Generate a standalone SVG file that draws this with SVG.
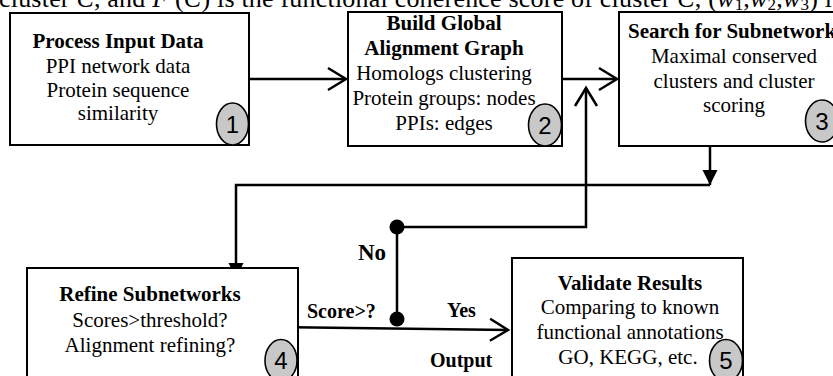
<svg xmlns="http://www.w3.org/2000/svg" width="833" height="376" viewBox="0 0 833 376">
<style>
  .box{fill:#fff;stroke:#000;stroke-width:2}
  .t{font-family:"Liberation Serif","Times New Roman",serif;font-size:21px;fill:#000;text-anchor:middle}
  .b{font-weight:bold}
  .lbl{font-family:"Liberation Serif","Times New Roman",serif;font-weight:bold;fill:#000}
  .num{fill:#c8c8c8;stroke:#000;stroke-width:1.6}
  .numt{font-family:"Liberation Sans",Arial,sans-serif;font-size:24px;fill:#000;text-anchor:middle}
  .ln{fill:none;stroke:#000;stroke-width:2.5}
  .cap{font-family:"Liberation Serif","Times New Roman",serif;font-size:26px;fill:#000}
</style>
<defs>
  <marker id="open" markerUnits="userSpaceOnUse" markerWidth="22" markerHeight="26" refX="19" refY="12" orient="auto" overflow="visible">
    <path d="M1,1 L19,12 L1,23" fill="none" stroke="#000" stroke-width="2.5"/>
  </marker>
  <marker id="tri" markerUnits="userSpaceOnUse" markerWidth="16" markerHeight="16" refX="15" refY="7.5" orient="auto" overflow="visible">
    <path d="M0,0 L15,7.5 L0,15 Z" fill="#000"/>
  </marker>
</defs>

<text class="cap" x="-1" y="7" textLength="833" lengthAdjust="spacing">cluster <tspan font-style="italic">C</tspan>, and <tspan font-style="italic">F</tspan> (<tspan font-style="italic">C</tspan>) is the functional coherence score of cluster <tspan font-style="italic">C</tspan>, (<tspan font-style="italic">w</tspan><tspan font-size="17" dy="3">1</tspan><tspan dy="-3">,</tspan><tspan font-style="italic">w</tspan><tspan font-size="17" dy="3">2</tspan><tspan dy="-3">,</tspan><tspan font-style="italic">w</tspan><tspan font-size="17" dy="3">3</tspan><tspan dy="-3">) i</tspan></text>

<g id="connectors">
  <path class="ln" d="M249,79 H346" marker-end="url(#open)"/>
  <path class="ln" d="M562,79 H617" marker-end="url(#open)"/>
  <path class="ln" d="M710,146 V185" marker-end="url(#tri)"/>
  <path class="ln" d="M710,185 H236 V278" marker-end="url(#tri)"/>
  <path class="ln" d="M274,327 L508,330" marker-end="url(#open)"/>
  <path class="ln" d="M397,319 V227 H586 V88" marker-end="url(#open)"/>
  <circle cx="397" cy="227" r="7.5" fill="#000"/>
  <circle cx="397" cy="319" r="7.5" fill="#000"/>
  <text class="lbl" x="358" y="260" font-size="23">No</text>
  <text class="lbl" x="307" y="318" font-size="20">Score&gt;?</text>
  <text class="lbl" x="447" y="317" font-size="20">Yes</text>
  <text class="lbl" x="430" y="367" font-size="20">Output</text>
</g>

<g id="node1">
  <rect class="box" x="10" y="13" width="239" height="132"/>
  <text class="t b" x="118" y="48">Process Input Data</text>
  <text class="t" x="118" y="73">PPI network data</text>
  <text class="t" x="118" y="97">Protein sequence</text>
  <text class="t" x="118" y="120">similarity</text>
  <ellipse class="num" cx="232.5" cy="124" rx="16" ry="21"/>
  <text class="numt" x="232.5" y="132.5">1</text>
</g>

<g id="node2">
  <rect class="box" x="348" y="12" width="214" height="134"/>
  <text class="t b" x="444" y="30">Build Global</text>
  <text class="t b" x="444" y="55">Alignment Graph</text>
  <text class="t" x="444" y="80">Homologs clustering</text>
  <text class="t" x="444" y="105">Protein groups: nodes</text>
  <text class="t" x="444" y="130">PPIs: edges</text>
  <ellipse class="num" cx="545" cy="125" rx="16.5" ry="21"/>
  <text class="numt" x="545" y="133.5">2</text>
</g>

<g id="node3">
  <rect class="box" x="619" y="12" width="222" height="134"/>
  <text class="t b" x="628" y="38" style="text-anchor:start">Search for Subnetwork</text>
  <text class="t" x="734" y="63">Maximal conserved</text>
  <text class="t" x="734" y="88">clusters and cluster</text>
  <text class="t" x="734" y="112">scoring</text>
  <ellipse class="num" cx="822" cy="121" rx="16.5" ry="21"/>
  <text class="numt" x="822" y="129.5">3</text>
</g>

<g id="node4">
  <rect class="box" x="27" y="268" width="271" height="130"/>
  <text class="t b" x="150" y="301">Refine Subnetworks</text>
  <text class="t" x="150" y="326.5">Scores&gt;threshold?</text>
  <text class="t" x="150" y="352">Alignment refining?</text>
  <ellipse class="num" cx="281" cy="360.5" rx="16" ry="21"/>
  <text class="numt" x="281" y="369">4</text>
</g>

<g id="node5">
  <rect class="box" x="512" y="258" width="231" height="140"/>
  <text class="t b" x="630" y="290">Validate Results</text>
  <text class="t" x="630" y="314">Comparing to known</text>
  <text class="t" x="630" y="339">functional annotations</text>
  <text class="t" x="628" y="364">GO, KEGG, etc.</text>
  <ellipse class="num" cx="726" cy="360.5" rx="16.5" ry="21"/>
  <text class="numt" x="726" y="369">5</text>
</g>
</svg>
